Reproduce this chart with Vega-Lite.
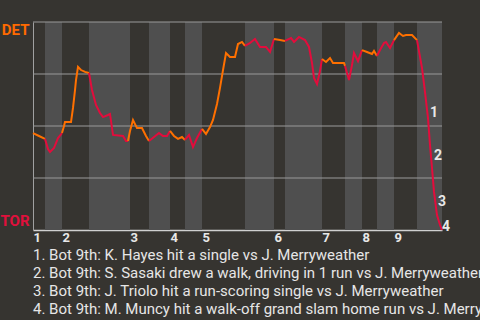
{
  "$schema": "https://vega.github.io/schema/vega-lite/v6.json",
  "width": 409,
  "height": 208,
  "autosize": {"type": "none"},
  "padding": {"left": 33, "top": 22, "right": 38, "bottom": 90},
  "background": "#363430",
  "config": {"view": {"stroke": null}, "font": "Roboto"},
  "title": {
    "text": [
      "1. Bot 9th: K. Hayes hit a single vs J. Merryweather",
      "2. Bot 9th: S. Sasaki drew a walk, driving in 1 run vs J. Merryweather",
      "3. Bot 9th: J. Triolo hit a run-scoring single vs J. Merryweather",
      "4. Bot 9th: M. Muncy hit a walk-off grand slam home run vs J. Merryweather"
    ],
    "orient": "bottom",
    "anchor": "start",
    "frame": "group",
    "font": "Roboto",
    "fontSize": 15,
    "fontWeight": "normal",
    "color": "#e6e6e6",
    "lineHeight": 18,
    "offset": 4
  },
  "datasets": {
    "bands": [
      {"h": "B1", "start": 12, "end": 29},
      {"h": "B2", "start": 56, "end": 97},
      {"h": "B3", "start": 116, "end": 137},
      {"h": "B4", "start": 152, "end": 169},
      {"h": "B5", "start": 212, "end": 241},
      {"h": "B6", "start": 252, "end": 289},
      {"h": "B7", "start": 312, "end": 329},
      {"h": "B8", "start": 344, "end": 361},
      {"h": "B9", "start": 384, "end": 409}
    ],
    "grid": [{"wp": 0.25}, {"wp": 0.5}, {"wp": 0.75}, {"wp": 1}],
    "notes": [
      {"n": "1", "p": 401, "wp": 0.5625},
      {"n": "2", "p": 405, "wp": 0.356},
      {"n": "3", "p": 409, "wp": 0.135},
      {"n": "4", "p": 413, "wp": 0.014}
    ],
    "wp": [
      {"p": 0, "wp": 0.466, "h": "T1", "s": "top"},
      {"p": 6, "wp": 0.452, "h": "T1", "s": "top"},
      {"p": 12, "wp": 0.438, "h": "T1", "s": "top"},
      {"p": 12, "wp": 0.438, "h": "B1", "s": "bot"},
      {"p": 15, "wp": 0.389, "h": "B1", "s": "bot"},
      {"p": 17, "wp": 0.375, "h": "B1", "s": "bot"},
      {"p": 21, "wp": 0.394, "h": "B1", "s": "bot"},
      {"p": 25, "wp": 0.442, "h": "B1", "s": "bot"},
      {"p": 29, "wp": 0.466, "h": "B1", "s": "bot"},
      {"p": 29, "wp": 0.466, "h": "T2", "s": "top"},
      {"p": 31, "wp": 0.5, "h": "T2", "s": "top"},
      {"p": 32, "wp": 0.519, "h": "T2", "s": "top"},
      {"p": 38, "wp": 0.519, "h": "T2", "s": "top"},
      {"p": 40, "wp": 0.587, "h": "T2", "s": "top"},
      {"p": 42, "wp": 0.673, "h": "T2", "s": "top"},
      {"p": 43, "wp": 0.721, "h": "T2", "s": "top"},
      {"p": 45, "wp": 0.784, "h": "T2", "s": "top"},
      {"p": 48, "wp": 0.769, "h": "T2", "s": "top"},
      {"p": 52, "wp": 0.76, "h": "T2", "s": "top"},
      {"p": 56, "wp": 0.755, "h": "T2", "s": "top"},
      {"p": 56, "wp": 0.755, "h": "B2", "s": "bot"},
      {"p": 59, "wp": 0.673, "h": "B2", "s": "bot"},
      {"p": 63, "wp": 0.601, "h": "B2", "s": "bot"},
      {"p": 67, "wp": 0.5625, "h": "B2", "s": "bot"},
      {"p": 70, "wp": 0.543, "h": "B2", "s": "bot"},
      {"p": 75, "wp": 0.553, "h": "B2", "s": "bot"},
      {"p": 77, "wp": 0.558, "h": "B2", "s": "bot"},
      {"p": 80, "wp": 0.457, "h": "B2", "s": "bot"},
      {"p": 90, "wp": 0.452, "h": "B2", "s": "bot"},
      {"p": 93, "wp": 0.428, "h": "B2", "s": "bot"},
      {"p": 95, "wp": 0.428, "h": "B2", "s": "bot"},
      {"p": 95, "wp": 0.428, "h": "T3", "s": "top"},
      {"p": 97, "wp": 0.476, "h": "T3", "s": "top"},
      {"p": 100, "wp": 0.529, "h": "T3", "s": "top"},
      {"p": 104, "wp": 0.49, "h": "T3", "s": "top"},
      {"p": 109, "wp": 0.49, "h": "T3", "s": "top"},
      {"p": 113, "wp": 0.452, "h": "T3", "s": "top"},
      {"p": 116, "wp": 0.428, "h": "T3", "s": "top"},
      {"p": 116, "wp": 0.428, "h": "B3", "s": "bot"},
      {"p": 121, "wp": 0.447, "h": "B3", "s": "bot"},
      {"p": 126, "wp": 0.466, "h": "B3", "s": "bot"},
      {"p": 130, "wp": 0.452, "h": "B3", "s": "bot"},
      {"p": 134, "wp": 0.452, "h": "B3", "s": "bot"},
      {"p": 137, "wp": 0.476, "h": "B3", "s": "bot"},
      {"p": 137, "wp": 0.476, "h": "T4", "s": "top"},
      {"p": 141, "wp": 0.452, "h": "T4", "s": "top"},
      {"p": 145, "wp": 0.438, "h": "T4", "s": "top"},
      {"p": 149, "wp": 0.447, "h": "T4", "s": "top"},
      {"p": 152, "wp": 0.433, "h": "T4", "s": "top"},
      {"p": 152, "wp": 0.433, "h": "B4", "s": "bot"},
      {"p": 156, "wp": 0.457, "h": "B4", "s": "bot"},
      {"p": 160, "wp": 0.399, "h": "B4", "s": "bot"},
      {"p": 164, "wp": 0.442, "h": "B4", "s": "bot"},
      {"p": 169, "wp": 0.486, "h": "B4", "s": "bot"},
      {"p": 169, "wp": 0.486, "h": "T5", "s": "top"},
      {"p": 173, "wp": 0.462, "h": "T5", "s": "top"},
      {"p": 177, "wp": 0.495, "h": "T5", "s": "top"},
      {"p": 180, "wp": 0.529, "h": "T5", "s": "top"},
      {"p": 184, "wp": 0.606, "h": "T5", "s": "top"},
      {"p": 187, "wp": 0.683, "h": "T5", "s": "top"},
      {"p": 190, "wp": 0.769, "h": "T5", "s": "top"},
      {"p": 193, "wp": 0.851, "h": "T5", "s": "top"},
      {"p": 197, "wp": 0.832, "h": "T5", "s": "top"},
      {"p": 202, "wp": 0.832, "h": "T5", "s": "top"},
      {"p": 205, "wp": 0.894, "h": "T5", "s": "top"},
      {"p": 209, "wp": 0.904, "h": "T5", "s": "top"},
      {"p": 212, "wp": 0.885, "h": "T5", "s": "top"},
      {"p": 212, "wp": 0.885, "h": "B5", "s": "bot"},
      {"p": 217, "wp": 0.899, "h": "B5", "s": "bot"},
      {"p": 222, "wp": 0.918, "h": "B5", "s": "bot"},
      {"p": 227, "wp": 0.88, "h": "B5", "s": "bot"},
      {"p": 233, "wp": 0.88, "h": "B5", "s": "bot"},
      {"p": 237, "wp": 0.856, "h": "B5", "s": "bot"},
      {"p": 241, "wp": 0.918, "h": "B5", "s": "bot"},
      {"p": 241, "wp": 0.918, "h": "T6", "s": "top"},
      {"p": 247, "wp": 0.913, "h": "T6", "s": "top"},
      {"p": 252, "wp": 0.909, "h": "T6", "s": "top"},
      {"p": 252, "wp": 0.909, "h": "B6", "s": "bot"},
      {"p": 258, "wp": 0.923, "h": "B6", "s": "bot"},
      {"p": 261, "wp": 0.904, "h": "B6", "s": "bot"},
      {"p": 266, "wp": 0.928, "h": "B6", "s": "bot"},
      {"p": 272, "wp": 0.913, "h": "B6", "s": "bot"},
      {"p": 276, "wp": 0.88, "h": "B6", "s": "bot"},
      {"p": 279, "wp": 0.803, "h": "B6", "s": "bot"},
      {"p": 281, "wp": 0.731, "h": "B6", "s": "bot"},
      {"p": 284, "wp": 0.702, "h": "B6", "s": "bot"},
      {"p": 287, "wp": 0.764, "h": "B6", "s": "bot"},
      {"p": 289, "wp": 0.822, "h": "B6", "s": "bot"},
      {"p": 289, "wp": 0.822, "h": "T7", "s": "top"},
      {"p": 293, "wp": 0.808, "h": "T7", "s": "top"},
      {"p": 297, "wp": 0.827, "h": "T7", "s": "top"},
      {"p": 300, "wp": 0.803, "h": "T7", "s": "top"},
      {"p": 311, "wp": 0.803, "h": "T7", "s": "top"},
      {"p": 312, "wp": 0.789, "h": "T7", "s": "top"},
      {"p": 312, "wp": 0.789, "h": "B7", "s": "bot"},
      {"p": 314, "wp": 0.755, "h": "B7", "s": "bot"},
      {"p": 316, "wp": 0.721, "h": "B7", "s": "bot"},
      {"p": 319, "wp": 0.793, "h": "B7", "s": "bot"},
      {"p": 321, "wp": 0.851, "h": "B7", "s": "bot"},
      {"p": 325, "wp": 0.812, "h": "B7", "s": "bot"},
      {"p": 329, "wp": 0.865, "h": "B7", "s": "bot"},
      {"p": 329, "wp": 0.865, "h": "T8", "s": "top"},
      {"p": 334, "wp": 0.856, "h": "T8", "s": "top"},
      {"p": 339, "wp": 0.846, "h": "T8", "s": "top"},
      {"p": 341, "wp": 0.861, "h": "T8", "s": "top"},
      {"p": 344, "wp": 0.837, "h": "T8", "s": "top"},
      {"p": 344, "wp": 0.837, "h": "B8", "s": "bot"},
      {"p": 347, "wp": 0.865, "h": "B8", "s": "bot"},
      {"p": 351, "wp": 0.899, "h": "B8", "s": "bot"},
      {"p": 353, "wp": 0.904, "h": "B8", "s": "bot"},
      {"p": 357, "wp": 0.875, "h": "B8", "s": "bot"},
      {"p": 361, "wp": 0.913, "h": "B8", "s": "bot"},
      {"p": 361, "wp": 0.913, "h": "T9", "s": "top"},
      {"p": 366, "wp": 0.947, "h": "T9", "s": "top"},
      {"p": 370, "wp": 0.933, "h": "T9", "s": "top"},
      {"p": 373, "wp": 0.9375, "h": "T9", "s": "top"},
      {"p": 379, "wp": 0.9375, "h": "T9", "s": "top"},
      {"p": 384, "wp": 0.913, "h": "T9", "s": "top"},
      {"p": 384, "wp": 0.913, "h": "B9", "s": "bot"},
      {"p": 387, "wp": 0.832, "h": "B9", "s": "bot"},
      {"p": 389, "wp": 0.779, "h": "B9", "s": "bot"},
      {"p": 392, "wp": 0.663, "h": "B9", "s": "bot"},
      {"p": 395, "wp": 0.538, "h": "B9", "s": "bot"},
      {"p": 397, "wp": 0.409, "h": "B9", "s": "bot"},
      {"p": 399, "wp": 0.298, "h": "B9", "s": "bot"},
      {"p": 401, "wp": 0.183, "h": "B9", "s": "bot"},
      {"p": 404, "wp": 0.072, "h": "B9", "s": "bot"},
      {"p": 407, "wp": 0.024, "h": "B9", "s": "bot"},
      {"p": 409, "wp": 0, "h": "B9", "s": "bot"}
    ]
  },
  "layer": [
    {
      "data": {"name": "bands"},
      "mark": {"type": "rect", "color": "#4f4f4f"},
      "encoding": {
        "x": {"field": "start", "type": "quantitative", "scale": {"domain": [0, 409], "nice": false, "zero": false},
          "axis": {
            "values": [0, 29, 97, 137, 169, 241, 289, 329, 361],
            "labelExpr": "indexof([0,29,97,137,169,241,289,329,361], datum.value) + 1",
            "labelAlign": "left",
            "labelBaseline": "top",
            "labelDx": 1,
            "labelPadding": 1,
            "labelFont": "Roboto",
            "labelFontSize": 13,
            "labelFontWeight": "bold",
            "labelColor": "#e8e8e8",
            "ticks": false,
            "grid": false,
            "domainColor": "#d0d0d0",
            "domainWidth": 1.5,
            "title": null
          }
        },
        "x2": {"field": "end"}
      }
    },
    {
      "data": {"name": "grid"},
      "mark": {"type": "rule", "color": "#9a9a9a", "strokeWidth": 1},
      "encoding": {
        "y": {"field": "wp", "type": "quantitative", "scale": {"domain": [0, 1], "nice": false},
          "axis": {
            "values": [0, 1],
            "labelExpr": "datum.value == 1 ? 'DET' : 'TOR'",
            "labelColor": {"condition": {"test": "datum.value == 1", "value": "#ff6a00"}, "value": "#e0103c"},
            "labelBaseline": {"condition": {"test": "datum.value == 1", "value": "top"}, "value": "alphabetic"},
            "labelOffset": {"condition": {"test": "datum.value == 1", "value": 0}, "value": -5},
            "labelFont": "Roboto",
            "labelFontSize": 15,
            "labelFontWeight": "bold",
            "labelPadding": 4,
            "ticks": false,
            "grid": false,
            "domainColor": "#a0a0a0",
            "title": null
          }
        }
      }
    },
    {
      "data": {"name": "wp"},
      "mark": {"type": "line", "strokeWidth": 2},
      "encoding": {
        "x": {"field": "p", "type": "quantitative"},
        "y": {"field": "wp", "type": "quantitative"},
        "color": {"field": "s", "type": "nominal", "scale": {"domain": ["top", "bot"], "range": ["#ff7000", "#e30c3c"]}, "legend": null},
        "detail": {"field": "h"},
        "order": {"field": "p", "type": "quantitative"}
      }
    },
    {
      "data": {"name": "notes"},
      "mark": {"type": "text", "font": "Roboto", "fontSize": 14, "fontWeight": "bold", "color": "#e8e8e8", "align": "center", "baseline": "middle", "clip": false},
      "encoding": {
        "x": {"field": "p", "type": "quantitative"},
        "y": {"field": "wp", "type": "quantitative"},
        "text": {"field": "n"}
      }
    }
  ]
}
